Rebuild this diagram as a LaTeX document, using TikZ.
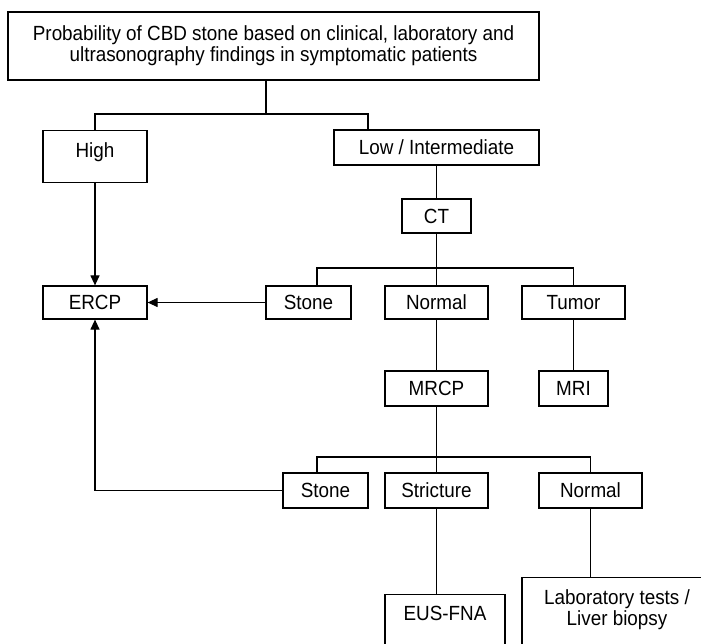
\documentclass[tikz,border=0pt]{standalone}
\usepackage{fontspec}
\setmainfont[FakeStretch=0.92]{Liberation Sans}
\usetikzlibrary{arrows.meta}
\begin{document}
\begin{tikzpicture}[x=1pt,y=-1pt,
  every node/.style={font=\fontsize{20.5}{21}\selectfont},
  box/.style={draw, line width=1.2pt, inner sep=0pt, align=center},
  tbox/.style={draw, line width=1.2pt, inner sep=0pt, anchor=north},
  conn/.style={line width=1.2pt},
  arr/.style={line width=1.2pt, -{Triangle[length=10pt,width=9pt]}},
]
\useasboundingbox (0,0) rectangle (701,644);
\clip (0,0) rectangle (701,644);

% nodes
\node[box, minimum width=531pt, minimum height=68pt] (top) at (273.5,46)
  {Probability of CBD stone based on clinical, laboratory and\\ultrasonography findings in symptomatic patients};
\node[tbox] (high) at (95,130) {\parbox[t][52pt][t]{104pt}{\centering\vspace*{11.6pt}High}};
\node[box, minimum width=205pt, minimum height=35pt] (low) at (436.5,147.5) {Low / Intermediate};
\node[box, minimum width=69pt, minimum height=34pt] (ct) at (436.5,216) {CT};
\node[box, minimum width=104pt, minimum height=33pt] (ercp) at (95,302.5) {ERCP};
\node[box, minimum width=85pt, minimum height=33pt] (stone1) at (308.5,302.5) {Stone};
\node[box, minimum width=103pt, minimum height=33pt] (normal1) at (436.5,302.5) {Normal};
\node[box, minimum width=103pt, minimum height=33pt] (tumor) at (573.5,302.5) {Tumor};
\node[box, minimum width=103pt, minimum height=35pt] (mrcp) at (436.5,388.5) {MRCP};
\node[box, minimum width=69pt, minimum height=35pt] (mri) at (573.5,388.5) {MRI};
\node[box, minimum width=85pt, minimum height=35pt] (stone2) at (325.5,490.5) {Stone};
\node[box, minimum width=103pt, minimum height=35pt] (stricture) at (436.5,490.5) {Stricture};
\node[box, minimum width=103pt, minimum height=35pt] (normal2) at (590.5,490.5) {Normal};
\node[tbox] (eus) at (445,594) {\parbox[t][110pt][t]{120pt}{\centering\vspace*{11.6pt}EUS-FNA}};
\node[tbox] (lab) at (617,577) {\parbox[t][120pt][t]{190pt}{\centering\vspace*{12.5pt}Laboratory tests /\\Liver biopsy}};

% junction coordinates
\coordinate (j1) at (266,114);
\coordinate (lowin) at (368,130);
\coordinate (j2) at (436.5,268);
\coordinate (s1in) at (317,286);
\coordinate (j3) at (436.5,457);
\coordinate (s2in) at (317,473);

% connectors
\draw[conn] (top.south -| j1) -- (j1);
\draw[conn] (high.north) |- (j1) -| (lowin);
\draw[conn] (low.south) -- (ct.north);
\draw[conn] (ct.south) -- (normal1.north);
\draw[conn] (s1in) |- (j2) -| (tumor.north);
\draw[conn] (normal1.south) -- (mrcp.north);
\draw[conn] (tumor.south) -- (mri.north);
\draw[arr] (high.south) -- (ercp.north);
\draw[arr] (stone1.west) -- (ercp.east);
\draw[conn] (mrcp.south) -- (stricture.north);
\draw[conn] (s2in) |- (j3) -| (normal2.north);
\draw[arr] (stone2.west) -| (ercp.south);
\draw[conn] (stricture.south) -- (stricture.south |- eus.north);
\draw[conn] (normal2.south) -- (normal2.south |- lab.north);
\end{tikzpicture}
\end{document}
